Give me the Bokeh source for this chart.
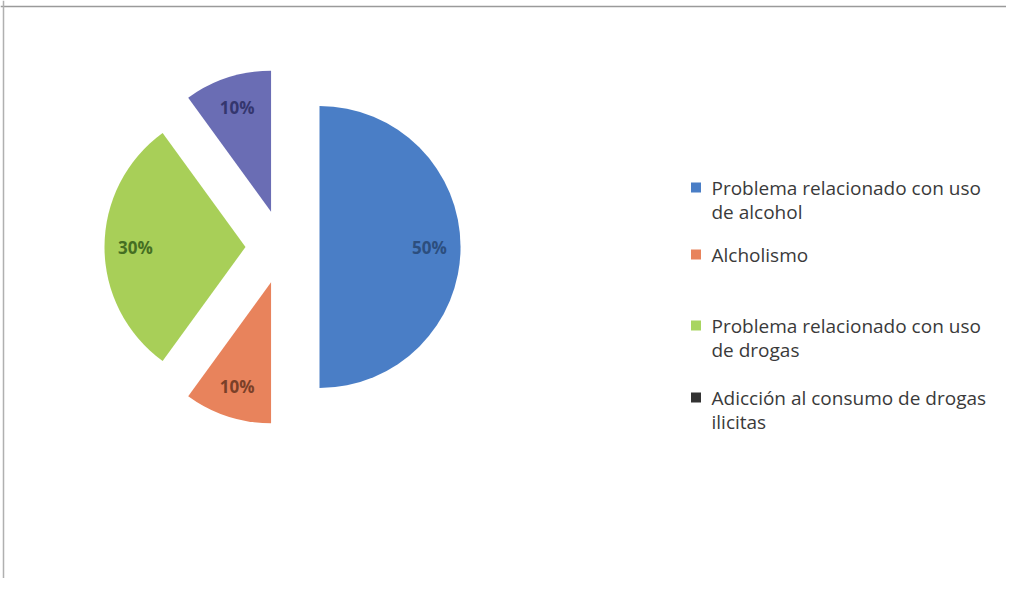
import math
from bokeh.plotting import figure
from bokeh.models import Range1d, Span, ColumnDataSource
from bokeh.core.properties import value
from bokeh.embed import file_html
from bokeh.resources import INLINE

# ---- data ----
categories = [
    "Problema relacionado con uso de alcohol",
    "Alcholismo",
    "Problema relacionado con uso de drogas",
    "Adicción al consumo de drogas ilicitas",
]
legend_lines = [
    ["Problema relacionado con uso", "de alcohol"],
    ["Alcholismo"],
    ["Problema relacionado con uso", "de drogas"],
    ["Adicción al consumo de drogas", "ilicitas"],
]
shares = [50, 10, 30, 10]
pct_labels = ["50%", "10%", "30%", "10%"]
slice_colors = ["#4A7EC6", "#E8835C", "#A8CF58", "#6A6DB4"]
label_colors = ["#2C4E7E", "#7A4028", "#456E22", "#34366E"]
legend_colors = ["#4A7EC6", "#E8835C", "#A8D560", "#333333"]

W, H = 1006, 578
p = figure(width=W, height=H, output_backend="svg", toolbar_location=None,
           x_range=Range1d(0, W), y_range=Range1d(0, H), min_border=0)
p.axis.visible = False
p.grid.visible = False
p.outline_line_color = None
p.background_fill_color = "#FFFFFF"
p.border_fill_color = "#FFFFFF"

# frame lines (top and left)
p.add_layout(Span(location=H - 6, dimension="width", line_color="#9A9A9A", line_width=1.5))
p.add_layout(Span(location=3, dimension="height", line_color="#B0B0B0", line_width=1.5))

# ---- pie ----
cx, cy = 282, 331.5
R = 141
explode = 37
label_r = 110
total = float(sum(shares))
xs, ys, starts, ends, lx, ly = [], [], [], [], [], []
cum = 0.0
for s in shares:
    a0 = math.pi / 2 - 2 * math.pi * cum / total
    cum += s
    a1 = math.pi / 2 - 2 * math.pi * cum / total
    mid = (a0 + a1) / 2
    ox = cx + explode * math.cos(mid)
    oy = cy + explode * math.sin(mid)
    xs.append(ox); ys.append(oy)
    starts.append(a0); ends.append(a1)
    lx.append(ox + label_r * math.cos(mid))
    ly.append(oy + label_r * math.sin(mid))

src = ColumnDataSource(dict(x=xs, y=ys, start=starts, end=ends, color=slice_colors,
                            lx=lx, ly=ly, lab=pct_labels, lc=label_colors))
p.wedge(x="x", y="y", radius=R, start_angle="start", end_angle="end",
        direction="clock", fill_color="color", line_color=None, source=src)
p.text(x="lx", y="ly", text="lab", text_color="lc", source=src,
       text_font=value("Open Sans"), text_font_style="bold", text_font_size="17px",
       text_align="center", text_baseline="middle")

# ---- legend (manual) ----
entry_y = [H - 187, H - 254, H - 325, H - 397]
line_step = 24
mx, tx = 695.5, 711
mk_x, mk_y, mk_c = [], [], []
t_x, t_y, t_t = [], [], []
for i, lines in enumerate(legend_lines):
    mk_x.append(mx); mk_y.append(entry_y[i]); mk_c.append(legend_colors[i])
    for j, ln in enumerate(lines):
        t_x.append(tx); t_y.append(entry_y[i] - j * line_step); t_t.append(ln)
p.rect(x=mk_x, y=mk_y, width=10, height=10, fill_color=mk_c, line_color=None)
p.text(x=t_x, y=t_y, text=t_t, text_color="#3A3A3A",
       text_font=value("Open Sans"), text_font_size="19px",
       text_align="left", text_baseline="middle")

open("out.html", "w").write(file_html(p, INLINE))
